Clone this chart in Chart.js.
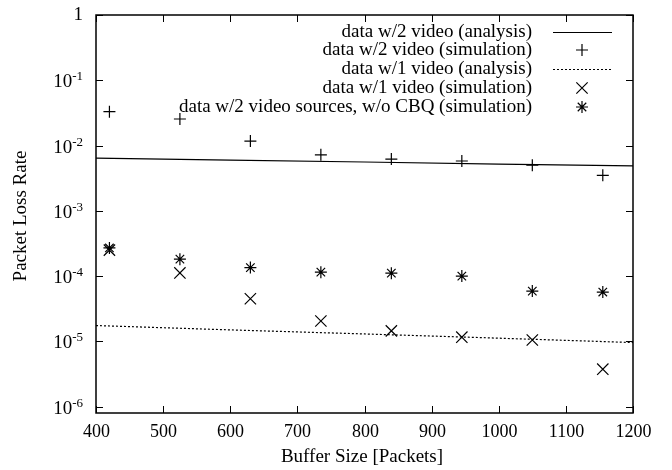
<!DOCTYPE html>
<html>
<head>
<meta charset="utf-8">
<script src="https://cdn.jsdelivr.net/npm/chart.js@4.4.0/dist/chart.umd.min.js"></script>
<style>
  html, body { margin: 0; padding: 0; background: #fff; }
  #wrap { width: 672px; height: 470px; }
</style>
</head>
<body>
<div id="wrap"><canvas id="lossChart"></canvas></div>
<script>
// --- data ---
const bufferSizes = [420, 525, 630, 735, 840, 945, 1050, 1155];
const twoVideoSim = [0.033, 0.0255, 0.0117, 0.0072, 0.0062, 0.0058, 0.0050, 0.0035];
const oneVideoSim = [2.5e-4, 1.12e-4, 4.5e-5, 2.05e-5, 1.45e-5, 1.16e-5, 1.05e-5, 3.75e-6];
const noCbqSim = [2.7e-4, 1.82e-4, 1.35e-4, 1.15e-4, 1.11e-4, 1.0e-4, 5.9e-5, 5.7e-5];

const analysisX = [400, 600, 800, 1000, 1200];
const twoVideoAnalysis = [0.0064, 0.0060, 0.0056, 0.0052, 0.0049];
const oneVideoAnalysis = [1.75e-5, 1.5e-5, 1.3e-5, 1.12e-5, 9.6e-6];

const xTicks = [400, 500, 600, 700, 800, 900, 1000, 1100, 1200];
const yTicks = [1, 1e-1, 1e-2, 1e-3, 1e-4, 1e-5, 1e-6];
const yTickExp = ['', '-1', '-2', '-3', '-4', '-5', '-6'];

const legendLabels = [
    'data w/2 video (analysis)',
    'data w/2 video (simulation)',
    'data w/1 video (analysis)',
    'data w/1 video (simulation)',
    'data w/2 video sources, w/o CBQ (simulation)'
];

const serif = '"Liberation Serif", "Times New Roman", serif';

function pts(xs, ys) {
    return xs.map((x, i) => ({ x: x, y: ys[i] }));
}

// gnuplot-ish frame, inward ticks, labels and legend
const gnuplotLook = {
    id: 'gnuplotLook',
    afterDraw(chart) {
        const ctx = chart.ctx;
        const a = chart.chartArea;
        const xs = chart.scales.x, ys = chart.scales.y;
        ctx.save();
        ctx.strokeStyle = '#000';
        ctx.lineWidth = 1.5;
        ctx.strokeRect(a.left, a.top, a.right - a.left, a.bottom - a.top);

        ctx.lineWidth = 1;
        ctx.fillStyle = '#000';
        ctx.font = '18px ' + serif;
        ctx.textAlign = 'center';
        ctx.textBaseline = 'middle';
        xTicks.forEach(v => {
            const px = Math.round(xs.getPixelForValue(v)) + 0.5;
            ctx.beginPath();
            ctx.moveTo(px, a.bottom); ctx.lineTo(px, a.bottom - 7);
            ctx.moveTo(px, a.top); ctx.lineTo(px, a.top + 7);
            ctx.stroke();
            ctx.fillText(String(v), px, a.bottom + 19);
        });

        yTicks.forEach((v, i) => {
            const py = Math.round(ys.getPixelForValue(v)) + 0.5;
            ctx.beginPath();
            ctx.moveTo(a.left, py); ctx.lineTo(a.left + 7, py);
            ctx.moveTo(a.right, py); ctx.lineTo(a.right - 7, py);
            ctx.stroke();
            ctx.textAlign = 'right';
            ctx.textBaseline = 'middle';
            if (yTickExp[i] === '') {
                ctx.font = '19px ' + serif;
                ctx.fillText('1', a.left - 13, py);
            } else {
                ctx.font = '13px ' + serif;
                const expW = ctx.measureText(yTickExp[i]).width;
                ctx.fillText(yTickExp[i], a.left - 13, py - 4);
                ctx.font = '19px ' + serif;
                ctx.fillText('10', a.left - 13 - expW, py + 2);
            }
        });

        // axis titles
        ctx.font = '19px ' + serif;
        ctx.textAlign = 'center';
        ctx.textBaseline = 'middle';
        ctx.fillText('Buffer Size [Packets]', 362, 457);
        ctx.save();
        ctx.translate(21, 216);
        ctx.rotate(-Math.PI / 2);
        ctx.fillText('Packet Loss Rate', 0, 0);
        ctx.restore();

        // legend
        const textRight = 532, sx0 = 553, sx1 = 612, mx = 582;
        const rowY = [32, 50, 69, 88, 107];
        ctx.font = '19px ' + serif;
        ctx.textAlign = 'right';
        legendLabels.forEach((label, i) => {
            const y = rowY[i];
            ctx.fillText(label, textRight, y);
            const ds = chart.data.datasets[i];
            ctx.strokeStyle = '#000';
            if (ds.showLine) {
                ctx.beginPath();
                ctx.lineWidth = ds.borderWidth;
                ctx.setLineDash(ds.borderDash || []);
                ctx.moveTo(sx0, y + 0.5); ctx.lineTo(sx1, y + 0.5);
                ctx.stroke();
                ctx.setLineDash([]);
            } else {
                Chart.helpers.drawPoint(ctx, {
                    pointStyle: ds.pointStyle,
                    radius: ds.pointRadius,
                    borderWidth: ds.pointBorderWidth,
                    rotation: 0
                }, mx, y);
            }
        });
        ctx.restore();
    }
};

new Chart(document.getElementById('lossChart'), {
    type: 'scatter',
    data: {
        datasets: [
            {
                label: legendLabels[0], data: pts(analysisX, twoVideoAnalysis),
                showLine: true, borderColor: '#000', borderWidth: 1.2, pointRadius: 0
            },
            {
                label: legendLabels[1], data: pts(bufferSizes, twoVideoSim),
                pointStyle: 'cross', pointRadius: 6, pointBorderWidth: 1.2,
                borderColor: '#000', backgroundColor: '#000'
            },
            {
                label: legendLabels[2], data: pts(analysisX, oneVideoAnalysis),
                showLine: true, borderColor: '#000', borderWidth: 1.2, borderDash: [2, 2], pointRadius: 0
            },
            {
                label: legendLabels[3], data: pts(bufferSizes, oneVideoSim),
                pointStyle: 'crossRot', pointRadius: 8, pointBorderWidth: 1.2,
                borderColor: '#000', backgroundColor: '#000'
            },
            {
                label: legendLabels[4], data: pts(bufferSizes, noCbqSim),
                pointStyle: 'star', pointRadius: 6, pointBorderWidth: 1.2,
                borderColor: '#000', backgroundColor: '#000'
            }
        ]
    },
    options: {
        responsive: true,
        maintainAspectRatio: false,
        animation: false,
        layout: { padding: { left: 96, right: 39, top: 15, bottom: 57 } },
        plugins: { legend: { display: false }, tooltip: { enabled: false } },
        scales: {
            x: { type: 'linear', min: 400, max: 1200, display: false },
            y: { type: 'logarithmic', min: 8e-7, max: 1, display: false }
        }
    },
    plugins: [gnuplotLook]
});
</script>
</body>
</html>
